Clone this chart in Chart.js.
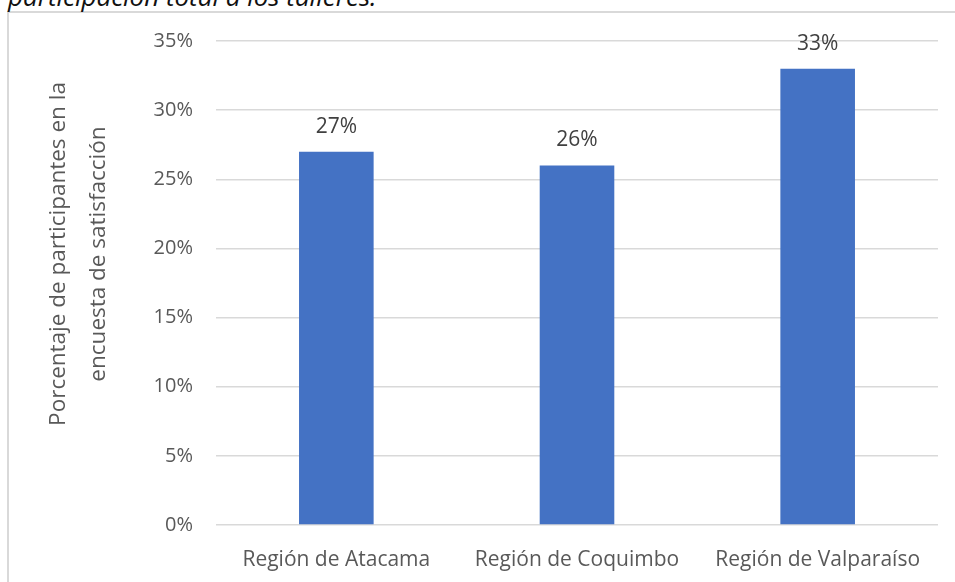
<!DOCTYPE html>
<html>
<head>
<meta charset="utf-8">
<script src="https://cdn.jsdelivr.net/npm/chart.js@4"></script>
<style>
  body { margin: 0; background: #fff; overflow: hidden; }
  #wrap { position: relative; width: 955px; height: 582px; }
  #frame { position: absolute; left: 7px; top: 11px; width: 960px; height: 600px; border: 2px solid #d9d9d9; }
  #caption { position: absolute; left: 8px; top: -22px; font: italic 26px "Open Sans", sans-serif; color: #111; white-space: nowrap; }
  #box { position: absolute; left: 0; top: 0; width: 955px; height: 582px; }
</style>
</head>
<body>
<div id="wrap">
  <div id="frame"></div>
  <div id="caption">participación total a los talleres.</div>
  <div id="box"><canvas id="chart"></canvas></div>
</div>
<script>
// values
var regiones = ['Región de Atacama', 'Región de Coquimbo', 'Región de Valparaíso'];
var porcentajes = [27, 26, 33];
var tituloEje = ['Porcentaje de participantes en la', 'encuesta de satisfacción'];

var fuente = '"Open Sans", sans-serif';

// y axis title, drawn by hand so it can sit where the original puts it
var tituloPlugin = {
    id: 'tituloEje',
    afterDraw: function(chart) {
        var ctx = chart.ctx;
        ctx.save();
        ctx.translate(59, 254);
        ctx.rotate(-Math.PI / 2);
        ctx.font = '22.5px ' + fuente;
        ctx.fillStyle = '#595959';
        ctx.textAlign = 'center';
        ctx.textBaseline = 'middle';
        tituloEje.forEach(function(linea, i) {
            ctx.fillText(linea, 0, i * 40);
        });
        ctx.restore();
    }
};

// value labels above the bars
var etiquetasPlugin = {
    id: 'etiquetas',
    afterDatasetsDraw: function(chart) {
        var ctx = chart.ctx;
        var meta = chart.getDatasetMeta(0);
        ctx.save();
        ctx.font = '21px ' + fuente;
        ctx.fillStyle = '#404040';
        ctx.textAlign = 'center';
        ctx.textBaseline = 'middle';
        meta.data.forEach(function(bar, i) {
            ctx.fillText(porcentajes[i] + '%', bar.x, bar.y - 25);
        });
        ctx.restore();
    }
};

var ctx = document.getElementById('chart').getContext('2d');
new Chart(ctx, {
    type: 'bar',
    data: {
        labels: regiones,
        datasets: [{
            data: porcentajes,
            backgroundColor: '#4472C4',
            barPercentage: 0.31,
            categoryPercentage: 1
        }]
    },
    options: {
        responsive: true,
        maintainAspectRatio: false,
        animation: false,
        layout: { padding: { top: 41, right: 17, bottom: 0, left: 0 } },
        plugins: {
            legend: { display: false },
            tooltip: { enabled: false }
        },
        scales: {
            x: {
                grid: { display: false },
                border: { display: false },
                ticks: {
                    color: '#595959',
                    font: { family: fuente, size: 21 },
                    padding: 14,
                    maxRotation: 0
                },
                afterFit: function(scale) { scale.height = 57; }
            },
            y: {
                min: 0,
                max: 35,
                border: { display: false },
                grid: { color: '#d9d9d9', lineWidth: 1.5, drawTicks: false },
                ticks: {
                    stepSize: 5,
                    color: '#595959',
                    font: { family: fuente, size: 20 },
                    padding: 23,
                    callback: function(v) { return v + '%'; }
                },
                afterFit: function(scale) { scale.width = 216; }
            }
        }
    },
    plugins: [tituloPlugin, etiquetasPlugin]
});
</script>
</body>
</html>
